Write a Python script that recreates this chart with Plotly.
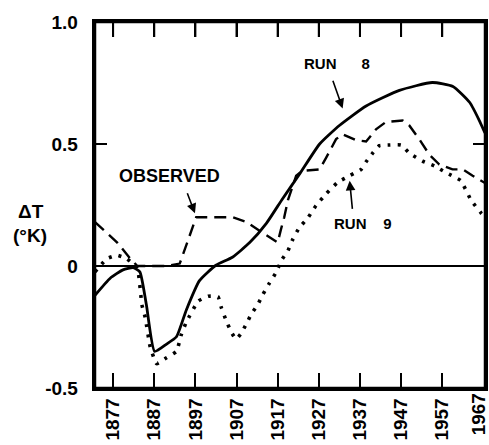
import plotly.graph_objects as go

# Years (x) and temperature anomaly values (y)
run8_year = [1872.6, 1876.3, 1879.4, 1881.9, 1883.5, 1885.1, 1887.1, 1890.0, 1892.4, 1894.8,
             1898.0, 1902.0, 1906.0, 1910.2, 1914.3, 1918.2, 1922.3, 1927.2, 1932.0, 1938.5,
             1946.6, 1954.6, 1959.6, 1963.7, 1966.2, 1967.4]
run8 = [-0.12, -0.05, -0.016, -0.007, -0.024, -0.16, -0.35, -0.32, -0.29, -0.18,
        -0.06, 0.003, 0.036, 0.096, 0.176, 0.276, 0.376, 0.50, 0.576, 0.656,
        0.72, 0.752, 0.736, 0.67, 0.59, 0.545]

observed_year = [1872.6, 1878.0, 1881.2, 1882.9, 1886.0, 1890.0, 1893.2, 1895.6, 1897.2, 1899.6,
                 1903.0, 1906.0, 1909.4, 1912.6, 1917.0, 1917.8, 1918.6, 1919.5, 1921.5, 1923.0,
                 1927.2, 1928.8, 1931.2, 1932.8, 1936.0, 1938.5, 1940.9, 1943.3, 1947.4, 1949.0,
                 1951.4, 1953.9, 1956.3, 1959.5, 1962.0, 1964.4, 1967.4]
observed = [0.18, 0.096, 0.03, 0.0, 0.0, 0.0, 0.01, 0.124, 0.2, 0.2,
            0.2, 0.2, 0.18, 0.144, 0.096, 0.15, 0.2, 0.27, 0.37, 0.39,
            0.396, 0.444, 0.52, 0.54, 0.516, 0.51, 0.56, 0.59, 0.596, 0.576,
            0.52, 0.456, 0.416, 0.396, 0.396, 0.37, 0.34]

run9_year = [1872.6, 1875.5, 1877.9, 1880.3, 1882.9, 1884.0, 1884.8, 1886.0, 1887.6, 1890.0,
             1892.4, 1893.6, 1894.8, 1897.7, 1900.1, 1902.5, 1903.3, 1904.5, 1905.7, 1906.9,
             1908.1, 1909.4, 1910.6, 1912.2, 1913.4, 1915.0, 1916.7, 1917.9, 1919.5, 1920.7,
             1922.3, 1924.3, 1926.3, 1928.8, 1931.6, 1934.5, 1937.3, 1938.5, 1940.1, 1941.7,
             1944.2, 1947.0, 1949.0, 1952.2, 1955.1, 1957.9, 1961.5, 1964.0, 1966.5, 1967.4]
run9 = [-0.024, 0.03, 0.044, 0.03, -0.01, -0.16, -0.21, -0.33, -0.40, -0.376,
        -0.35, -0.28, -0.23, -0.144, -0.124, -0.126, -0.17, -0.224, -0.27, -0.30,
        -0.277, -0.237, -0.197, -0.157, -0.117, -0.07, -0.024, 0.023, 0.063, 0.11,
        0.158, 0.196, 0.247, 0.296, 0.343, 0.37, 0.396, 0.427, 0.463, 0.493,
        0.496, 0.496, 0.463, 0.43, 0.41, 0.383, 0.35, 0.27, 0.216, 0.20]

x_ticks = [1877, 1887, 1897, 1907, 1917, 1927, 1937, 1947, 1957, 1967]
x_tick_labels = ["1877", "1887", "1897", "1907", "1917", "1927", "1937", "1947", "1957", "1967"]
y_ticks = [-0.5, 0, 0.5, 1.0]
y_tick_labels = ["-0.5", "0", "0.5", "1.0"]

FONT = "Liberation Sans"
NB = "\u00a0"

fig = go.Figure()
fig.add_trace(go.Scatter(x=run8_year, y=run8, mode="lines",
                         line=dict(color="black", width=2.8, shape="spline", smoothing=0.5),
                         name="RUN 8"))
fig.add_trace(go.Scatter(x=observed_year, y=observed, mode="lines",
                         line=dict(color="black", width=2.4, dash="12px,7px"),
                         name="OBSERVED"))
fig.add_trace(go.Scatter(x=run9_year, y=run9, mode="lines",
                         line=dict(color="black", width=3.6, dash="3px,7px",
                                   shape="spline", smoothing=0.4),
                         name="RUN 9"))

bold = dict(family=FONT, color="black", weight="bold")

annotations = [
    dict(x=1931.4, y=0.83, text="RUN" + NB * 6 + "8", showarrow=False, xanchor="center",
         font=dict(size=15, **bold)),
    dict(x=1890.6, y=0.369, text="OBSERVED", showarrow=False, xanchor="center",
         font=dict(size=18, **bold)),
    dict(x=1937.8, y=0.176, text="RUN" + NB * 4 + "9", showarrow=False, xanchor="center",
         font=dict(size=15, **bold)),
    # arrows
    dict(x=1932.8, y=0.646, ax=1930.3, ay=0.765, axref="x", ayref="y", text="",
         showarrow=True, arrowhead=2, arrowsize=1.2, arrowwidth=1.6, arrowcolor="black"),
    dict(x=1896.9, y=0.216, ax=1894.9, ay=0.304, axref="x", ayref="y", text="",
         showarrow=True, arrowhead=2, arrowsize=1.2, arrowwidth=1.6, arrowcolor="black"),
    dict(x=1934.5, y=0.349, ax=1935.2, ay=0.228, axref="x", ayref="y", text="",
         showarrow=True, arrowhead=2, arrowsize=1.2, arrowwidth=1.6, arrowcolor="black"),
    # y-axis title
    dict(xref="paper", yref="paper", x=-0.164, y=0.483, text="ΔT", showarrow=False,
         xanchor="center", yanchor="middle", font=dict(size=19, **bold)),
    dict(xref="paper", yref="paper", x=-0.166, y=0.418, text="(°K)", showarrow=False,
         xanchor="center", yanchor="middle", font=dict(size=19, **bold)),
    # last year label sits at the right edge of the frame
    dict(x=x_ticks[-1], y=0, yref="paper", text=x_tick_labels[-1], textangle=-90,
         showarrow=False, xanchor="center", yanchor="top", xshift=-5, yshift=-3,
         font=dict(size=19, **bold)),
]

shapes = [
    # frame around the plotting area
    dict(type="rect", xref="paper", yref="paper", x0=0, y0=0, x1=1, y1=1,
         line=dict(color="black", width=2.5), layer="above"),
]
# tick marks along the top edge, at the same years as the bottom ticks
for xv in x_ticks[:-1]:
    shapes.append(dict(type="line", xref="x", yref="paper", ysizemode="pixel", yanchor=1,
                       x0=xv, x1=xv, y0=0, y1=-15, line=dict(color="black", width=2)))
# tick mark on the right edge at 0.5
shapes.append(dict(type="line", xref="paper", yref="y", xsizemode="pixel", xanchor=1,
                   x0=0, x1=-12, y0=0.5, y1=0.5, line=dict(color="black", width=2)))

fig.update_layout(
    width=489, height=445,
    margin=dict(l=95, r=4, t=22, b=57),
    paper_bgcolor="white", plot_bgcolor="white",
    showlegend=False,
    annotations=annotations,
    shapes=shapes,
    xaxis=dict(range=[1872.6, 1967.4], tickvals=x_ticks[:-1], ticktext=x_tick_labels[:-1],
               tickangle=-90, ticks="inside", ticklen=15, tickwidth=2, tickcolor="black",
               showline=True, linecolor="black", linewidth=2.5, mirror="allticks",
               showgrid=False, zeroline=False, automargin=False,
               tickfont=dict(size=19, **bold)),
    yaxis=dict(range=[-0.5, 1.0], tickvals=y_ticks,
               ticktext=[t + NB * 2 for t in y_tick_labels],
               ticks="inside", ticklen=12, tickwidth=2, tickcolor="black",
               showline=True, linecolor="black", linewidth=2.5, mirror="allticks",
               showgrid=False, zeroline=True, zerolinecolor="black", zerolinewidth=1.8,
               automargin=False, tickfont=dict(size=19, **bold)),
)

# remove the page's default body margin so the figure sits at the window's corner
fig.write_html("out.html", config={"displayModeBar": False},
               post_script="document.body.style.margin='0px';document.body.style.overflow='hidden';")
